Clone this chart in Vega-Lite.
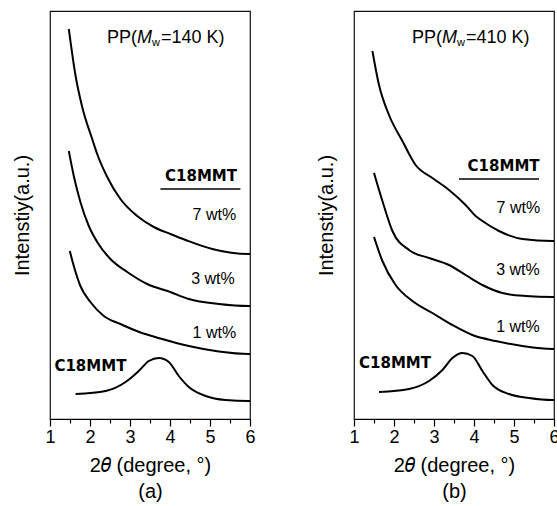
{
  "$schema": "https://vega.github.io/schema/vega-lite/v6.json",
  "padding": {"left": 11, "top": 10, "right": 0, "bottom": 0},
  "spacing": 59,
  "background": "white",
  "config": {
    "view": {"stroke": "#111", "strokeWidth": 1.2},
    "font": "Liberation Sans",
    "axis": {"grid": false}
  },
  "datasets": {
    "curves": [
      {"panel": "a", "series": "7", "x": 1.47, "y": 390},
      {"panel": "a", "series": "7", "x": 1.64, "y": 343},
      {"panel": "a", "series": "7", "x": 1.805, "y": 312},
      {"panel": "a", "series": "7", "x": 2.055, "y": 280},
      {"panel": "a", "series": "7", "x": 2.18, "y": 265},
      {"panel": "a", "series": "7", "x": 2.43, "y": 242},
      {"panel": "a", "series": "7", "x": 2.76, "y": 220},
      {"panel": "a", "series": "7", "x": 3.18, "y": 203},
      {"panel": "a", "series": "7", "x": 3.595, "y": 192},
      {"panel": "a", "series": "7", "x": 4.01, "y": 185},
      {"panel": "a", "series": "7", "x": 4.39, "y": 179},
      {"panel": "a", "series": "7", "x": 5.055, "y": 170},
      {"panel": "a", "series": "7", "x": 5.97, "y": 165},
      {"panel": "a", "series": "7", "x": 6.0, "y": 165},
      {"panel": "a", "series": "3", "x": 1.47, "y": 268},
      {"panel": "a", "series": "3", "x": 1.595, "y": 243},
      {"panel": "a", "series": "3", "x": 1.76, "y": 217},
      {"panel": "a", "series": "3", "x": 1.97, "y": 193},
      {"panel": "a", "series": "3", "x": 2.18, "y": 177},
      {"panel": "a", "series": "3", "x": 2.51, "y": 160},
      {"panel": "a", "series": "3", "x": 2.93, "y": 147},
      {"panel": "a", "series": "3", "x": 3.43, "y": 135},
      {"panel": "a", "series": "3", "x": 4.01, "y": 127},
      {"panel": "a", "series": "3", "x": 4.47, "y": 120},
      {"panel": "a", "series": "3", "x": 5.22, "y": 115},
      {"panel": "a", "series": "3", "x": 5.97, "y": 113},
      {"panel": "a", "series": "3", "x": 6.0, "y": 113},
      {"panel": "a", "series": "1", "x": 1.495, "y": 168},
      {"panel": "a", "series": "1", "x": 1.595, "y": 153},
      {"panel": "a", "series": "1", "x": 1.76, "y": 133},
      {"panel": "a", "series": "1", "x": 2.01, "y": 117},
      {"panel": "a", "series": "1", "x": 2.345, "y": 103},
      {"panel": "a", "series": "1", "x": 2.76, "y": 95},
      {"panel": "a", "series": "1", "x": 3.23, "y": 87},
      {"panel": "a", "series": "1", "x": 3.805, "y": 80},
      {"panel": "a", "series": "1", "x": 4.47, "y": 73},
      {"panel": "a", "series": "1", "x": 5.22, "y": 67.5},
      {"panel": "a", "series": "1", "x": 5.97, "y": 65},
      {"panel": "a", "series": "1", "x": 6.0, "y": 65},
      {"panel": "a", "series": "c", "x": 1.64, "y": 25},
      {"panel": "a", "series": "c", "x": 2.39, "y": 28},
      {"panel": "a", "series": "c", "x": 2.89, "y": 37},
      {"panel": "a", "series": "c", "x": 3.22, "y": 48},
      {"panel": "a", "series": "c", "x": 3.47, "y": 58},
      {"panel": "a", "series": "c", "x": 3.72, "y": 61},
      {"panel": "a", "series": "c", "x": 3.97, "y": 57},
      {"panel": "a", "series": "c", "x": 4.22, "y": 43},
      {"panel": "a", "series": "c", "x": 4.47, "y": 32},
      {"panel": "a", "series": "c", "x": 4.89, "y": 23},
      {"panel": "a", "series": "c", "x": 5.39, "y": 19},
      {"panel": "a", "series": "c", "x": 5.97, "y": 18},
      {"panel": "a", "series": "c", "x": 6.0, "y": 18},
      {"panel": "b", "series": "7", "x": 1.46, "y": 368},
      {"panel": "b", "series": "7", "x": 1.625, "y": 334},
      {"panel": "b", "series": "7", "x": 1.875, "y": 304},
      {"panel": "b", "series": "7", "x": 2.21, "y": 278},
      {"panel": "b", "series": "7", "x": 2.54, "y": 254},
      {"panel": "b", "series": "7", "x": 2.96, "y": 241},
      {"panel": "b", "series": "7", "x": 3.375, "y": 229},
      {"panel": "b", "series": "7", "x": 3.79, "y": 214},
      {"panel": "b", "series": "7", "x": 4.04, "y": 203},
      {"panel": "b", "series": "7", "x": 4.21, "y": 198},
      {"panel": "b", "series": "7", "x": 4.625, "y": 188},
      {"panel": "b", "series": "7", "x": 5.21, "y": 180},
      {"panel": "b", "series": "7", "x": 5.96, "y": 178},
      {"panel": "b", "series": "7", "x": 6.0, "y": 178},
      {"panel": "b", "series": "3", "x": 1.5, "y": 246},
      {"panel": "b", "series": "3", "x": 1.71, "y": 218},
      {"panel": "b", "series": "3", "x": 1.96, "y": 188},
      {"panel": "b", "series": "3", "x": 2.375, "y": 169},
      {"panel": "b", "series": "3", "x": 2.875, "y": 161},
      {"panel": "b", "series": "3", "x": 3.375, "y": 154},
      {"panel": "b", "series": "3", "x": 3.79, "y": 144},
      {"panel": "b", "series": "3", "x": 4.21, "y": 134},
      {"panel": "b", "series": "3", "x": 4.71, "y": 126},
      {"panel": "b", "series": "3", "x": 5.29, "y": 123},
      {"panel": "b", "series": "3", "x": 5.96, "y": 122},
      {"panel": "b", "series": "3", "x": 6.0, "y": 122},
      {"panel": "b", "series": "1", "x": 1.5, "y": 182},
      {"panel": "b", "series": "1", "x": 1.71, "y": 158},
      {"panel": "b", "series": "1", "x": 2.04, "y": 134},
      {"panel": "b", "series": "1", "x": 2.46, "y": 118},
      {"panel": "b", "series": "1", "x": 2.96, "y": 106},
      {"panel": "b", "series": "1", "x": 3.46, "y": 94},
      {"panel": "b", "series": "1", "x": 3.96, "y": 84},
      {"panel": "b", "series": "1", "x": 4.54, "y": 78},
      {"panel": "b", "series": "1", "x": 5.21, "y": 73},
      {"panel": "b", "series": "1", "x": 5.96, "y": 70},
      {"panel": "b", "series": "1", "x": 6.0, "y": 70},
      {"panel": "b", "series": "c", "x": 1.625, "y": 27},
      {"panel": "b", "series": "c", "x": 2.375, "y": 30},
      {"panel": "b", "series": "c", "x": 2.875, "y": 38},
      {"panel": "b", "series": "c", "x": 3.21, "y": 49},
      {"panel": "b", "series": "c", "x": 3.46, "y": 61},
      {"panel": "b", "series": "c", "x": 3.71, "y": 66},
      {"panel": "b", "series": "c", "x": 3.96, "y": 63},
      {"panel": "b", "series": "c", "x": 4.21, "y": 48},
      {"panel": "b", "series": "c", "x": 4.46, "y": 34},
      {"panel": "b", "series": "c", "x": 4.875, "y": 25},
      {"panel": "b", "series": "c", "x": 5.375, "y": 21},
      {"panel": "b", "series": "c", "x": 5.96, "y": 19},
      {"panel": "b", "series": "c", "x": 6.0, "y": 19}
    ],
    "labels": [
      {"panel": "a", "kind": "pp", "x": 2.425, "y": 376, "text": "PP("},
      {"panel": "a", "kind": "it", "x": 3.175, "y": 376, "text": "M"},
      {"panel": "a", "kind": "sub", "x": 3.55, "y": 373, "text": "w"},
      {"panel": "a", "kind": "pp", "x": 3.775, "y": 376, "text": "=140 K)"},
      {"panel": "a", "kind": "wt", "x": 5.11, "y": 199, "text": "7 wt%"},
      {"panel": "a", "kind": "wt", "x": 5.075, "y": 135, "text": "3 wt%"},
      {"panel": "a", "kind": "wt", "x": 5.11, "y": 81, "text": "1 wt%"},
      {"panel": "a", "kind": "bold", "x": 4.775, "y": 238, "text": "C18MMT"},
      {"panel": "a", "kind": "bold", "x": 2.01, "y": 48, "text": "C18MMT"},
      {"panel": "b", "kind": "pp", "x": 2.45, "y": 376, "text": "PP("},
      {"panel": "b", "kind": "it", "x": 3.2, "y": 376, "text": "M"},
      {"panel": "b", "kind": "sub", "x": 3.575, "y": 373, "text": "w"},
      {"panel": "b", "kind": "pp", "x": 3.8, "y": 376, "text": "=410 K)"},
      {"panel": "b", "kind": "wt", "x": 5.11, "y": 206, "text": "7 wt%"},
      {"panel": "b", "kind": "wt", "x": 5.1, "y": 144, "text": "3 wt%"},
      {"panel": "b", "kind": "wt", "x": 5.1, "y": 87, "text": "1 wt%"},
      {"panel": "b", "kind": "bold", "x": 4.74, "y": 248, "text": "C18MMT"},
      {"panel": "b", "kind": "bold", "x": 2.025, "y": 51, "text": "C18MMT"}
    ],
    "underlines": [
      {"panel": "a", "x": 3.76, "x2": 5.76, "y": 230},
      {"panel": "b", "x": 3.625, "x2": 5.625, "y": 240}
    ]
  },
  "hconcat": [
    {
      "width": 200,
      "height": 408,
      "layer": [
        {
          "data": {"name": "curves"},
          "transform": [{"filter": "datum.panel === 'a'"}],
          "mark": {"type": "line", "color": "black", "strokeWidth": 2, "interpolate": "monotone"},
          "encoding": {
            "x": {"field": "x", "type": "quantitative", "scale": {"domain": [1, 6], "nice": false},
              "axis": {"values": [1, 1.5, 2, 2.5, 3, 3.5, 4, 4.5, 5, 5.5, 6], "tickCount": 20, "labelExpr": "datum.value % 1 === 0 ? format(datum.value, 'd') : ''",
                "tickSize": {"condition": {"test": "datum.value % 1 === 0", "value": 7}, "value": 4},
                "labelFontSize": 18, "labelColor": "black", "labelFlush": false, "labelOverlap": false, "labelPadding": 2,
                "domainColor": "black", "tickColor": "black", "tickWidth": 1.2, "domainWidth": 1.2,
                "title": ["2𝜃 (degree, °)", "(a)"], "titleFontSize": 20, "titleFontWeight": "normal", "titleColor": "black", "titleLineHeight": 26, "titlePadding": 9}},
            "y": {"field": "y", "type": "quantitative", "scale": {"domain": [0, 408], "nice": false},
              "axis": {"labels": false, "ticks": false, "domain": false, "title": "Intenstiy(a.u.)", "titleFontSize": 20, "titleFontWeight": "normal", "titleColor": "black", "titlePadding": 18}},
            "detail": {"field": "series"}
          }
        },
        {
          "data": {"name": "underlines"},
          "transform": [{"filter": "datum.panel === 'a'"}],
          "mark": {"type": "rule", "color": "black", "strokeWidth": 1.6},
          "encoding": {
            "x": {"field": "x", "type": "quantitative"},
            "x2": {"field": "x2"},
            "y": {"field": "y", "type": "quantitative"}
          }
        },
        {
          "data": {"name": "labels"},
          "transform": [{"filter": "datum.panel === 'a' && datum.kind === 'pp'"}],
          "mark": {"type": "text", "align": "left", "baseline": "alphabetic", "fontSize": 18, "color": "black"},
          "encoding": {"x": {"field": "x", "type": "quantitative"}, "y": {"field": "y", "type": "quantitative"}, "text": {"field": "text"}}
        },
        {
          "data": {"name": "labels"},
          "transform": [{"filter": "datum.panel === 'a' && datum.kind === 'it'"}],
          "mark": {"type": "text", "align": "left", "baseline": "alphabetic", "fontSize": 18, "fontStyle": "italic", "color": "black"},
          "encoding": {"x": {"field": "x", "type": "quantitative"}, "y": {"field": "y", "type": "quantitative"}, "text": {"field": "text"}}
        },
        {
          "data": {"name": "labels"},
          "transform": [{"filter": "datum.panel === 'a' && datum.kind === 'sub'"}],
          "mark": {"type": "text", "align": "left", "baseline": "alphabetic", "fontSize": 11, "color": "black"},
          "encoding": {"x": {"field": "x", "type": "quantitative"}, "y": {"field": "y", "type": "quantitative"}, "text": {"field": "text"}}
        },
        {
          "data": {"name": "labels"},
          "transform": [{"filter": "datum.panel === 'a' && datum.kind === 'wt'"}],
          "mark": {"type": "text", "align": "center", "baseline": "alphabetic", "fontSize": 16, "color": "black"},
          "encoding": {"x": {"field": "x", "type": "quantitative"}, "y": {"field": "y", "type": "quantitative"}, "text": {"field": "text"}}
        },
        {
          "data": {"name": "labels"},
          "transform": [{"filter": "datum.panel === 'a' && datum.kind === 'bold'"}],
          "mark": {"type": "text", "align": "center", "baseline": "alphabetic", "fontSize": 15, "font": "DejaVu Sans", "fontWeight": "bold", "color": "black"},
          "encoding": {"x": {"field": "x", "type": "quantitative"}, "y": {"field": "y", "type": "quantitative"}, "text": {"field": "text"}}
        }
      ]
    },
    {
      "width": 200,
      "height": 408,
      "layer": [
        {
          "data": {"name": "curves"},
          "transform": [{"filter": "datum.panel === 'b'"}],
          "mark": {"type": "line", "color": "black", "strokeWidth": 2, "interpolate": "monotone"},
          "encoding": {
            "x": {"field": "x", "type": "quantitative", "scale": {"domain": [1, 6], "nice": false},
              "axis": {"values": [1, 1.5, 2, 2.5, 3, 3.5, 4, 4.5, 5, 5.5, 6], "tickCount": 20, "labelExpr": "datum.value % 1 === 0 ? format(datum.value, 'd') : ''",
                "tickSize": {"condition": {"test": "datum.value % 1 === 0", "value": 7}, "value": 4},
                "labelFontSize": 18, "labelColor": "black", "labelFlush": false, "labelOverlap": false, "labelPadding": 2,
                "domainColor": "black", "tickColor": "black", "tickWidth": 1.2, "domainWidth": 1.2,
                "title": ["2𝜃 (degree, °)", "(b)"], "titleFontSize": 20, "titleFontWeight": "normal", "titleColor": "black", "titleLineHeight": 26, "titlePadding": 9}},
            "y": {"field": "y", "type": "quantitative", "scale": {"domain": [0, 408], "nice": false},
              "axis": {"labels": false, "ticks": false, "domain": false, "title": "Intenstiy(a.u.)", "titleFontSize": 20, "titleFontWeight": "normal", "titleColor": "black", "titlePadding": 18}},
            "detail": {"field": "series"}
          }
        },
        {
          "data": {"name": "underlines"},
          "transform": [{"filter": "datum.panel === 'b'"}],
          "mark": {"type": "rule", "color": "black", "strokeWidth": 1.6},
          "encoding": {
            "x": {"field": "x", "type": "quantitative"},
            "x2": {"field": "x2"},
            "y": {"field": "y", "type": "quantitative"}
          }
        },
        {
          "data": {"name": "labels"},
          "transform": [{"filter": "datum.panel === 'b' && datum.kind === 'pp'"}],
          "mark": {"type": "text", "align": "left", "baseline": "alphabetic", "fontSize": 18, "color": "black"},
          "encoding": {"x": {"field": "x", "type": "quantitative"}, "y": {"field": "y", "type": "quantitative"}, "text": {"field": "text"}}
        },
        {
          "data": {"name": "labels"},
          "transform": [{"filter": "datum.panel === 'b' && datum.kind === 'it'"}],
          "mark": {"type": "text", "align": "left", "baseline": "alphabetic", "fontSize": 18, "fontStyle": "italic", "color": "black"},
          "encoding": {"x": {"field": "x", "type": "quantitative"}, "y": {"field": "y", "type": "quantitative"}, "text": {"field": "text"}}
        },
        {
          "data": {"name": "labels"},
          "transform": [{"filter": "datum.panel === 'b' && datum.kind === 'sub'"}],
          "mark": {"type": "text", "align": "left", "baseline": "alphabetic", "fontSize": 11, "color": "black"},
          "encoding": {"x": {"field": "x", "type": "quantitative"}, "y": {"field": "y", "type": "quantitative"}, "text": {"field": "text"}}
        },
        {
          "data": {"name": "labels"},
          "transform": [{"filter": "datum.panel === 'b' && datum.kind === 'wt'"}],
          "mark": {"type": "text", "align": "center", "baseline": "alphabetic", "fontSize": 16, "color": "black"},
          "encoding": {"x": {"field": "x", "type": "quantitative"}, "y": {"field": "y", "type": "quantitative"}, "text": {"field": "text"}}
        },
        {
          "data": {"name": "labels"},
          "transform": [{"filter": "datum.panel === 'b' && datum.kind === 'bold'"}],
          "mark": {"type": "text", "align": "center", "baseline": "alphabetic", "fontSize": 15, "font": "DejaVu Sans", "fontWeight": "bold", "color": "black"},
          "encoding": {"x": {"field": "x", "type": "quantitative"}, "y": {"field": "y", "type": "quantitative"}, "text": {"field": "text"}}
        }
      ]
    }
  ]
}
